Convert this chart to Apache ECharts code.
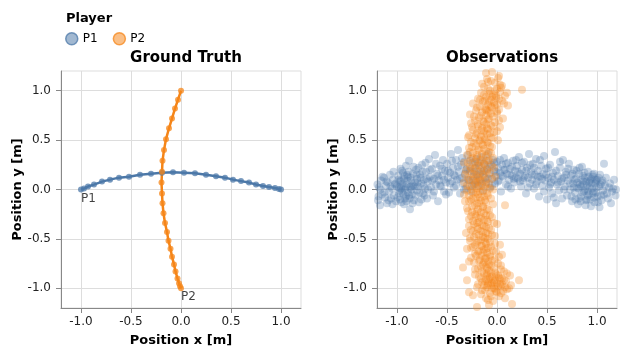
<!DOCTYPE html>
<html>
<head>
<meta charset="utf-8">
<script src="https://cdn.jsdelivr.net/npm/echarts@6/dist/echarts.min.js"></script>
<style>
  html, body { margin: 0; padding: 0; background: #fff; }
  #main { width: 624px; height: 352px; }
</style>
</head>
<body>
<div id="main"></div>
<script>
// ground truth trajectories
var gtP1X = [-1.0, -0.97, -0.93, -0.87, -0.79, -0.71, -0.62, -0.52, -0.41, -0.30, -0.19, -0.08, 0.03, 0.14, 0.25, 0.35, 0.44, 0.52, 0.60, 0.68, 0.75, 0.82, 0.88, 0.94, 0.98, 1.0];
var gtP1Y = [0.0, 0.01, 0.03, 0.05, 0.08, 0.10, 0.12, 0.13, 0.15, 0.16, 0.17, 0.175, 0.17, 0.165, 0.15, 0.135, 0.12, 0.10, 0.085, 0.07, 0.05, 0.035, 0.025, 0.015, 0.005, 0.0];
var gtP2X = [0.0, -0.03, -0.06, -0.09, -0.12, -0.15, -0.17, -0.185, -0.19, -0.195, -0.19, -0.185, -0.175, -0.16, -0.14, -0.125, -0.105, -0.09, -0.07, -0.055, -0.035, -0.02, -0.01, 0.0];
var gtP2Y = [1.0, 0.91, 0.82, 0.72, 0.62, 0.51, 0.40, 0.29, 0.18, 0.07, -0.04, -0.14, -0.24, -0.34, -0.43, -0.52, -0.60, -0.68, -0.76, -0.83, -0.90, -0.95, -0.98, -1.0];

// noisy observations [x, y]
var obsP1 = [
  [-1.19,-0.11],[-1.18,0.02],[-1.17,-0.16],[-1.16,0.09],[-1.15,-0.05],[-1.13,0.12],[-1.12,-0.08],[-1.11,0.04],[-1.10,-0.14],[-1.09,0.07],
  [-1.08,-0.02],[-1.07,0.15],[-1.06,-0.09],[-1.05,0.01],[-1.04,0.10],[-1.03,-0.06],[-1.02,0.05],[-1.01,-0.12],[-1.00,0.03],
  [-0.99,0.14],[-0.98,-0.04],[-0.97,0.08],[-0.97,-0.10],[-0.96,0.01],[-0.95,0.19],[-0.95,-0.02],[-0.94,0.06],[-0.93,-0.15],[-0.93,0.11],
  [-0.92,0.00],[-0.91,0.24],[-0.91,-0.07],[-0.90,0.05],[-0.89,0.13],[-0.89,-0.03],[-0.88,0.29],[-0.87,0.02],[-0.87,-0.20],[-0.86,0.09],
  [-0.85,-0.05],[-0.84,0.16],[-0.84,0.04],[-0.83,-0.11],[-0.82,0.07],[-0.81,0.20],[-0.80,-0.01],[-0.80,0.11],
  [-0.96,0.09],[-0.92,-0.09],[-0.90,0.15],[-0.88,-0.06],[-0.86,0.03],[-0.94,0.17],[-0.98,0.02],
  [-0.79,0.03],[-0.78,-0.13],[-0.77,0.15],[-0.76,0.06],[-0.75,0.25],[-0.74,-0.04],[-0.73,0.10],[-0.72,0.01],[-0.71,0.18],[-0.70,-0.09],
  [-0.69,0.08],[-0.68,0.31],[-0.67,0.13],[-0.66,0.02],[-0.65,0.21],[-0.64,-0.06],[-0.63,0.11],[-0.62,0.35],[-0.61,0.05],[-0.60,0.16],
  [-0.59,-0.12],[-0.58,0.09],[-0.57,0.24],[-0.56,0.03],[-0.55,0.14],[-0.54,0.30],[-0.53,-0.02],[-0.52,0.19],[-0.51,0.07],
  [-0.50,0.26],[-0.49,0.12],[-0.48,-0.03],[-0.47,0.17],[-0.46,0.36],[-0.45,0.08],[-0.44,0.22],[-0.43,0.02],[-0.42,0.14],[-0.41,0.30],
  [-0.40,0.10],[-0.39,0.40],[-0.38,0.18],[-0.37,-0.04],[-0.36,0.25],[-0.35,0.12],[-0.34,0.06],[-0.33,0.28],[-0.32,0.16],[-0.31,0.01],
  [-0.30,0.21],[-0.29,0.35],[-0.28,0.09],[-0.27,0.19],[-0.26,-0.02],[-0.25,0.27],[-0.24,0.13],[-0.23,0.05],[-0.22,0.22],[-0.21,0.31],
  [-0.20,0.15],[-0.19,0.04],[-0.18,0.24],[-0.17,0.10],[-0.16,0.33],[-0.15,0.18],[-0.14,-0.01],[-0.13,0.26],[-0.12,0.12],[-0.11,0.07],
  [-0.10,0.21],[-0.09,0.36],[-0.08,0.16],[-0.07,0.02],[-0.06,0.25],[-0.05,0.11],[-0.04,0.30],[-0.03,0.19],[-0.02,0.06],[-0.01,0.14],
  [0.00,0.28],[0.01,0.22],[0.02,0.09],[0.03,0.17],[0.04,-0.02],[0.05,0.25],[0.06,0.13],[0.07,0.32],[0.08,0.20],[0.09,0.05],
  [0.10,0.16],[0.11,0.27],[0.12,0.10],[0.13,0.21],[0.14,0.01],[0.15,0.14],[0.16,0.29],[0.17,0.07],[0.18,0.19],[0.19,0.12],
  [0.20,0.24],[0.21,0.11],[0.22,0.33],[0.23,0.16],[0.24,0.03],[0.25,0.20],[0.26,0.09],[0.27,0.28],[0.28,0.14],[0.29,-0.04],
  [0.30,0.22],[0.31,0.12],[0.32,0.36],[0.33,0.06],[0.34,0.18],[0.35,0.10],[0.36,0.26],[0.37,0.01],[0.38,0.15],[0.39,0.31],
  [0.40,0.08],[0.41,0.19],[0.42,-0.07],[0.43,0.13],[0.44,0.24],[0.45,0.04],[0.46,0.16],[0.47,0.34],[0.48,0.09],[0.49,0.21],
  [0.50,-0.10],[0.51,0.12],[0.52,0.02],[0.53,0.25],[0.54,0.07],[0.55,-0.04],[0.56,0.17],[0.57,0.10],[0.58,0.38],[0.59,-0.14],
  [0.60,0.05],[0.61,0.14],[0.62,-0.01],[0.63,0.22],[0.64,0.08],[0.65,-0.09],[0.66,0.30],[0.67,0.12],[0.68,0.03],[0.69,0.18],
  [0.70,-0.06],[0.71,0.09],[0.72,0.26],[0.73,0.00],[0.74,0.14],[0.75,-0.12],[0.76,0.06],[0.77,0.20],[0.78,-0.03],[0.79,0.11],
  [0.80,0.02],[0.81,-0.15],[0.82,0.16],[0.83,0.05],[0.84,-0.07],[0.85,0.23],[0.86,0.08],[0.87,-0.02],[0.88,0.12],[0.89,-0.11],
  [0.90,0.04],[0.91,0.18],[0.92,-0.05],[0.93,0.09],[0.94,-0.17],[0.95,0.01],[0.96,0.13],[0.97,-0.08],[0.98,0.06],[0.99,-0.03],
  [1.00,0.10],[1.01,-0.13],[1.02,0.03],[1.03,0.15],[1.04,-0.06],[1.05,0.07],[1.06,-0.01],[1.07,0.26],[1.08,0.04],[1.10,-0.04],
  [1.12,0.02],[1.14,-0.14],[1.16,0.01],[1.19,0.00],
  [0.86,0.14],[0.88,0.00],[0.90,-0.10],[0.92,0.07],[0.94,0.11],[0.96,-0.04],[0.84,0.03],[0.82,-0.09],[0.97,0.16],[0.99,0.08],[0.91,-0.02],
  [-1.195,0.05],[-1.185,-0.07],[-1.165,0.00],[-1.145,0.13],[-1.125,-0.03],[-1.105,0.08],[-1.085,-0.11],[-1.065,0.03],[-1.045,-0.15],[-1.035,0.18],
  [-1.015,0.06],[-0.995,-0.08],[-0.985,0.10],[-0.975,-0.01],[-0.965,0.21],[-0.955,-0.13],[-0.945,0.03],[-0.935,-0.05],[-0.925,0.14],[-0.915,0.02],
  [-0.905,-0.12],[-0.895,0.09],[-0.885,0.18],[-0.875,-0.09],[-0.865,0.12],[-0.855,0.00],[-0.845,-0.14],[-0.835,0.23],[-0.825,0.03],[-0.815,-0.06],
  [-0.805,0.15],[-0.795,0.07],[-0.785,0.22],[-0.775,-0.03],[-0.765,0.12],[-0.755,-0.10],[-0.745,0.18],[-0.735,0.04],[-0.725,-0.06],[-0.715,0.27],
  [-0.705,0.11],[-0.69,0.00],[-0.67,0.20],[-0.65,0.09],[-0.63,-0.02],[-0.61,0.26],[-0.59,0.14],[-0.57,0.04],[-0.55,0.21],[-0.53,0.10],
  [-0.51,-0.05],[-0.49,0.19],[-0.47,0.06],[-0.45,0.29],[-0.43,0.15],[-0.41,0.04],[-0.39,0.23],[-0.37,0.11],[-0.35,0.32],[-0.33,0.00],
  [-0.31,0.20],[-0.29,0.10],[-0.27,0.29],[-0.25,0.04],[-0.23,0.18],[-0.21,0.09],[-0.19,0.27],[-0.17,0.16],[-0.15,0.06],[-0.13,0.19],
  [-0.11,0.29],[-0.09,0.11],[-0.07,0.23],[-0.05,0.04],[-0.03,0.27],[-0.01,0.18],[0.01,0.08],[0.03,0.30],[0.05,0.14],[0.07,0.20],
  [0.09,0.26],[0.11,0.03],[0.13,0.15],[0.15,0.23],[0.17,0.11],[0.19,0.30],[0.21,0.18],[0.23,0.08],[0.25,0.27],[0.27,0.12],
  [0.29,0.19],[0.31,0.02],[0.33,0.25],[0.35,0.15],[0.37,0.22],[0.39,0.05],[0.41,0.13],[0.43,0.30],[0.45,0.11],[0.47,-0.02],
  [0.49,0.15],[0.51,0.22],[0.53,0.05],[0.55,0.13],[0.57,-0.08],[0.59,0.19],[0.61,0.07],[0.63,0.28],[0.65,0.11],[0.67,0.00],
  [0.69,0.15],[0.71,0.21],[0.73,0.06],[0.745,-0.07],[0.755,0.16],[0.765,0.02],[0.775,0.10],[0.785,-0.10],[0.795,0.19],[0.805,0.07],
  [0.815,0.01],[0.825,0.22],[0.835,-0.12],[0.845,0.10],[0.855,-0.03],[0.865,0.05],[0.875,0.17],[0.885,-0.16],[0.895,0.08],[0.905,-0.06],
  [0.915,0.13],[0.925,0.02],[0.935,-0.10],[0.945,0.06],[0.955,0.15],[0.965,-0.02],[0.975,-0.13],[0.985,0.10],[0.995,0.02],[1.005,-0.07],
  [1.015,0.12],[1.025,-0.18],[1.035,0.05],[1.045,-0.11],[1.055,0.09],[1.07,-0.05],[1.09,0.12],[1.11,-0.09],[1.13,0.06],[1.15,-0.02],
  [1.17,0.10],[1.185,-0.06]
];
var obsP2 = [
  [-0.05,1.19],[0.02,1.15],[-0.10,1.12],[-0.02,1.08],[0.05,1.05],[-0.13,1.04],[0.00,1.02],[0.25,1.01],[-0.07,1.00],[0.03,0.99],
  [-0.16,0.98],[-0.04,0.96],[0.08,0.95],[-0.11,0.94],[-0.01,0.93],[-0.19,0.92],[-0.06,0.91],[0.05,0.90],[-0.14,0.89],[-0.03,0.88],
  [-0.24,0.87],[-0.09,0.86],[0.11,0.85],[-0.17,0.84],[-0.05,0.83],[-0.12,0.82],[0.02,0.81],[-0.21,0.80],[-0.08,0.79],[-0.15,0.78],
  [0.00,0.77],[-0.27,0.76],[-0.11,0.75],[-0.04,0.74],[-0.18,0.73],[0.06,0.72],[-0.09,0.71],[-0.22,0.70],[-0.14,0.69],[-0.02,0.68],
  [-0.08,0.97],[-0.01,0.95],[-0.12,0.90],[0.00,0.86],[-0.06,0.84],[-0.10,0.80],[0.03,1.06],[-0.09,1.09],
  [-0.26,0.67],[-0.11,0.66],[-0.06,0.65],[-0.19,0.64],[0.03,0.63],[-0.15,0.62],[-0.09,0.61],[-0.24,0.60],[-0.13,0.59],[-0.03,0.58],
  [-0.20,0.57],[-0.10,0.56],[-0.28,0.55],[-0.16,0.54],[-0.06,0.53],[-0.22,0.52],[-0.12,0.51],[0.01,0.50],[-0.18,0.49],[-0.26,0.48],
  [-0.09,0.47],[-0.15,0.46],[-0.21,0.44],[-0.05,0.43],[-0.28,0.42],[-0.13,0.41],[-0.19,0.40],[-0.08,0.38],[-0.24,0.37],[-0.15,0.36],
  [-0.30,0.35],[-0.11,0.34],[-0.20,0.33],[-0.04,0.32],[-0.26,0.31],[-0.16,0.30],[-0.09,0.29],[-0.22,0.28],[-0.33,0.27],[-0.13,0.26],
  [-0.19,0.25],[-0.05,0.24],[-0.27,0.23],[-0.15,0.22],[-0.23,0.21],[-0.10,0.20],[-0.31,0.19],[-0.18,0.18],[-0.07,0.17],[-0.25,0.16],
  [-0.14,0.15],[-0.21,0.14],[-0.02,0.13],[-0.29,0.12],[-0.17,0.11],[-0.11,0.10],[-0.24,0.09],[-0.19,0.08],[-0.33,0.07],[-0.08,0.06],
  [-0.22,0.05],[-0.15,0.04],[-0.27,0.03],[-0.12,0.02],[-0.20,0.01],[-0.04,0.00],[-0.30,-0.01],[-0.17,-0.02],[-0.24,-0.03],[-0.10,-0.04],
  [-0.19,-0.05],[-0.28,-0.06],[-0.13,-0.07],[-0.21,-0.08],[-0.06,-0.09],[-0.26,-0.10],[-0.16,-0.11],[-0.32,-0.12],[-0.11,-0.13],[-0.20,-0.14],
  [0.08,-0.16],[-0.25,-0.17],[-0.14,-0.18],[-0.19,-0.20],[-0.08,-0.21],[-0.29,-0.22],[-0.16,-0.23],[-0.22,-0.25],[-0.11,-0.26],[-0.26,-0.27],
  [-0.05,-0.28],[-0.18,-0.29],[-0.13,-0.31],[-0.24,-0.32],[-0.09,-0.33],[-0.20,-0.34],[0.00,-0.35],[-0.15,-0.36],[-0.28,-0.37],[-0.11,-0.38],
  [-0.19,-0.40],[-0.06,-0.41],[-0.24,-0.42],[-0.14,-0.43],[-0.31,-0.44],[-0.09,-0.45],[-0.18,-0.46],[-0.02,-0.47],[-0.23,-0.48],[-0.12,-0.49],
  [-0.16,-0.51],[-0.27,-0.52],[-0.07,-0.53],[-0.20,-0.54],[-0.11,-0.55],[0.03,-0.56],[-0.15,-0.57],[-0.24,-0.58],[-0.09,-0.59],[-0.30,-0.60],
  [-0.13,-0.61],[-0.04,-0.62],[-0.19,-0.63],[-0.10,-0.64],[-0.22,-0.65],[0.05,-0.66],[-0.15,-0.67],[-0.07,-0.68],[-0.26,-0.69],[-0.12,-0.70],
  [-0.02,-0.71],[-0.18,-0.72],[-0.09,-0.73],[-0.23,-0.74],[0.01,-0.75],[-0.14,-0.76],[-0.06,-0.77],[-0.34,-0.79],[-0.11,-0.78],[-0.19,-0.80],
  [0.04,-0.81],[-0.08,-0.82],[-0.15,-0.83],[-0.02,-0.84],[0.10,-0.85],[-0.22,-0.86],[-0.10,-0.87],[-0.05,-0.88],[0.02,-0.89],[-0.16,-0.90],
  [-0.08,-0.91],[0.07,-0.92],[-0.12,-0.93],[-0.03,-0.94],[0.00,-0.95],[-0.19,-0.96],[-0.06,-0.97],[0.04,-0.98],[-0.10,-0.99],[0.12,-1.00],
  [-0.02,-1.01],[-0.15,-1.02],[0.06,-1.03],[-0.07,-1.05],[-0.24,-1.07],[0.02,-1.08],[-0.11,-1.10],[0.15,-1.16],[-0.04,-1.13],[-0.20,-1.19],
  [-0.08,-1.17],
  [-0.04,-0.92],[0.03,-0.96],[-0.09,-0.95],[0.01,-0.87],[-0.13,-0.97],[0.08,-0.99],[-0.05,-1.00],[0.00,-1.04],[-0.10,-0.85],[0.05,-0.90],
  [-0.11,1.18],[0.01,1.13],[-0.06,1.10],[-0.15,1.07],[0.04,1.03],[-0.09,1.02],[-0.02,1.00],[0.10,0.98],[-0.13,0.96],[-0.05,0.94],
  [0.02,0.92],[-0.17,0.91],[-0.08,0.89],[0.07,0.87],[-0.02,0.85],[-0.20,0.83],[-0.11,0.81],[0.00,0.79],[-0.06,0.77],[-0.16,0.75],
  [-0.23,0.74],[-0.08,0.72],[0.02,0.70],[-0.13,0.68],[-0.19,0.66],[-0.04,0.64],[-0.25,0.63],[-0.10,0.62],[-0.16,0.60],[0.00,0.59],
  [-0.07,0.57],[-0.21,0.56],[-0.13,0.54],[-0.29,0.53],[-0.04,0.52],[-0.17,0.50],[-0.10,0.48],[-0.23,0.47],[-0.14,0.45],[-0.07,0.44],
  [-0.25,0.43],[-0.18,0.41],[-0.11,0.39],[-0.27,0.38],[-0.06,0.37],[-0.20,0.35],[-0.14,0.33],[-0.24,0.32],[-0.08,0.30],[-0.17,0.28],
  [-0.29,0.27],[-0.12,0.25],[-0.21,0.24],[-0.03,0.22],[-0.26,0.21],[-0.16,0.19],[-0.10,0.18],[-0.23,0.16],[-0.32,0.15],[-0.13,0.13],
  [-0.19,0.12],[-0.05,0.11],[-0.27,0.10],[-0.16,0.08],[-0.22,0.07],[-0.11,0.05],[-0.30,0.04],[-0.18,0.03],[-0.07,0.01],[-0.25,0.00],
  [-0.14,-0.02],[-0.21,-0.03],[-0.33,-0.05],[-0.09,-0.06],[-0.17,-0.08],[-0.24,-0.09],[-0.12,-0.11],[-0.28,-0.12],[-0.18,-0.14],[-0.04,-0.15],
  [-0.22,-0.16],[-0.14,-0.17],[-0.30,-0.19],[-0.10,-0.20],[-0.20,-0.22],[-0.25,-0.23],[-0.13,-0.24],[-0.07,-0.26],[-0.21,-0.27],[-0.16,-0.28],
  [-0.28,-0.30],[-0.10,-0.31],[-0.18,-0.33],[-0.03,-0.34],[-0.23,-0.35],[-0.13,-0.37],[-0.20,-0.38],[-0.08,-0.39],[-0.26,-0.41],[-0.16,-0.42],
  [-0.11,-0.44],[-0.21,-0.45],[-0.05,-0.46],[-0.14,-0.48],[-0.27,-0.49],[-0.09,-0.50],[-0.19,-0.52],[-0.12,-0.53],[-0.02,-0.55],[-0.22,-0.56],
  [-0.16,-0.57],[-0.06,-0.58],[-0.26,-0.59],[-0.11,-0.60],[-0.18,-0.62],[-0.01,-0.63],[-0.14,-0.64],[-0.07,-0.66],[-0.21,-0.67],[0.02,-0.68],
  [-0.11,-0.69],[-0.17,-0.71],[-0.05,-0.72],[-0.28,-0.73],[-0.13,-0.74],[-0.08,-0.76],[0.04,-0.77],[-0.16,-0.78],[-0.03,-0.79],[-0.10,-0.80],
  [-0.22,-0.81],[0.07,-0.83],[-0.06,-0.84],[-0.13,-0.85],[-0.01,-0.86],[0.13,-0.87],[-0.18,-0.88],[-0.07,-0.89],[0.03,-0.90],[-0.11,-0.91],
  [-0.02,-0.92],[0.09,-0.93],[-0.15,-0.94],[-0.05,-0.95],[0.05,-0.96],[-0.09,-0.97],[0.01,-0.98],[-0.20,-0.99],[-0.03,-1.00],[0.10,-1.01],
  [-0.12,-1.02],[-0.01,-1.03],[0.04,-1.05],[-0.16,-1.06],[-0.06,-1.08],[0.08,-1.10],[-0.09,-1.12],[-0.28,-1.04],[0.14,-0.97],[-0.30,-0.92],
  [0.22,-0.92]
];

var tickValues = [-1, -0.5, 0, 0.5, 1];
var blue = '#4c78a8', orange = '#f58518';

function pairs(xs, ys) {
  return xs.map(function (x, i) { return [x, ys[i]]; });
}
function withLabel(pts, idx, text) {
  return pts.map(function (p, i) {
    if (i !== idx) return p;
    return {
      value: p,
      label: { show: true, formatter: text, position: 'bottom', align: 'left', distance: 0,
        fontSize: 12, color: '#000', fontFamily: 'DejaVu Sans' }
    };
  });
}

function valAxis(gridIndex, name, isX) {
  return {
    type: 'value', gridIndex: gridIndex, min: -1.2, max: 1.2, splitNumber: 5,
    name: name, nameLocation: 'middle', nameGap: isX ? 26 : 35,
    nameTextStyle: { fontSize: 13, fontWeight: 'bold', color: '#000', fontFamily: 'DejaVu Sans' },
    axisLine: { show: true, onZero: false, lineStyle: { color: '#888', width: 1 } },
    axisTick: { show: true, length: 5, customValues: tickValues, lineStyle: { color: '#888' } },
    axisLabel: { customValues: tickValues, margin: isX ? 8 : 10, fontSize: 12, color: '#222', fontFamily: 'DejaVu Sans',
      formatter: function (v) { return v.toFixed(1); } },
    splitLine: { show: true, lineStyle: { color: '#ddd', width: 1 } }
  };
}

var myChart = echarts.init(document.getElementById('main'));
var option = {
  backgroundColor: '#fff',
  animation: false,
  title: [
    { text: 'Player', left: 61, top: 7, textStyle: { fontSize: 13, fontWeight: 'bold', color: '#000', fontFamily: 'DejaVu Sans' } },
    { text: 'Ground Truth', left: 181, top: 46, textAlign: 'center', textStyle: { fontSize: 15, fontWeight: 'bold', color: '#000', fontFamily: 'DejaVu Sans' } },
    { text: 'Observations', left: 497, top: 46, textAlign: 'center', textStyle: { fontSize: 15, fontWeight: 'bold', color: '#000', fontFamily: 'DejaVu Sans' } }
  ],
  legend: {
    left: 60, top: 27, icon: 'circle', itemWidth: 12, itemHeight: 12, itemGap: 15,
    textStyle: { fontSize: 12, color: '#000', fontFamily: 'DejaVu Sans' },
    data: [
      { name: 'P1', itemStyle: { color: 'rgba(76,120,168,0.7)', borderColor: blue, borderWidth: 1.5 } },
      { name: 'P2', itemStyle: { color: 'rgba(245,133,24,0.7)', borderColor: orange, borderWidth: 1.5 } }
    ]
  },
  grid: [
    { left: 61, top: 71, width: 240, height: 239, show: true, borderColor: '#ddd', borderWidth: 1 },
    { left: 377, top: 71, width: 240, height: 239, show: true, borderColor: '#ddd', borderWidth: 1 }
  ],
  xAxis: [valAxis(0, 'Position x [m]', true), valAxis(1, 'Position x [m]', true)],
  yAxis: [valAxis(0, 'Position y [m]', false), valAxis(1, 'Position y [m]', false)],
  series: [
    { name: 'P1', type: 'line', xAxisIndex: 0, yAxisIndex: 0, data: withLabel(pairs(gtP1X, gtP1Y), 0, 'P1'),
      symbol: 'circle', symbolSize: 6, showAllSymbol: true,
      lineStyle: { color: blue, width: 2.5 }, itemStyle: { color: blue, opacity: 0.75 } },
    { name: 'P2', type: 'line', xAxisIndex: 0, yAxisIndex: 0, data: withLabel(pairs(gtP2X, gtP2Y), gtP2X.length - 1, 'P2'),
      symbol: 'circle', symbolSize: 6, showAllSymbol: true,
      lineStyle: { color: orange, width: 2.5 }, itemStyle: { color: orange, opacity: 0.75 } },
    { name: 'P1', type: 'scatter', xAxisIndex: 1, yAxisIndex: 1, data: obsP1, symbolSize: 8, clip: true,
      itemStyle: { color: blue, opacity: 0.3 } },
    { name: 'P2', type: 'scatter', xAxisIndex: 1, yAxisIndex: 1, data: obsP2, symbolSize: 8, clip: true,
      itemStyle: { color: orange, opacity: 0.3 } }
  ]
};
myChart.setOption(option);
</script>
</body>
</html>
